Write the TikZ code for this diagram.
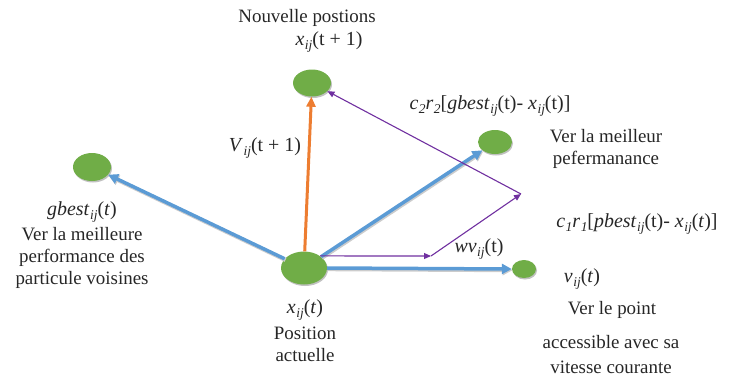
\documentclass[tikz,border=0pt]{standalone}
\usepackage{fontspec}
\setmainfont{Liberation Serif}
\usetikzlibrary{arrows.meta,shapes.geometric,shadows}
\definecolor{pgreen}{HTML}{70AD47}
\definecolor{pblue}{HTML}{5B9BD5}
\definecolor{porange}{HTML}{ED7D31}
\definecolor{ppurple}{HTML}{7030A0}
\newcommand{\lblfont}{\fontsize{19}{22}\selectfont}
\newcommand{\sv}[2]{\textit{#1}\kern0.5pt\raisebox{-0.4ex}{\fontsize{13.5}{13.5}\selectfont\textit{#2}}}
\newcommand{\iv}[1]{\textit{#1}}
\tikzset{
  dot/.style={ellipse, fill=pgreen, draw=none, inner sep=0pt,
    drop shadow={shadow xshift=1bp, shadow yshift=-1.5bp, opacity=0.35, fill=black!70}},
  lbl/.style={font=\lblfont, align=center, inner sep=0pt, text=black!85},
  mlbl/.style={font=\fontsize{20}{22}\selectfont, align=center, inner sep=0pt, text=black!85},
  bluearrow/.style={draw=pblue, line width=3.5bp, -{Triangle[length=10bp,width=10bp]},
    preaction={draw=black!20, line width=4bp, transform canvas={xshift=0.8bp,yshift=-1.2bp}}},
  orangearrow/.style={draw=porange, line width=3bp, -{Triangle[length=10bp,width=9bp]}},
  purplearrow/.style={draw=ppurple, line width=1.1bp, -{Triangle[length=7bp,width=6bp]}}
}
\begin{document}
\begin{tikzpicture}[x=1bp,y=-1bp]
\useasboundingbox (0,0) rectangle (731,378);
% nodes
\node[dot, minimum width=46bp, minimum height=33bp] (c) at (304,268) {};
\node[dot, minimum width=38bp, minimum height=27bp] (t) at (312,83) {};
\node[dot, minimum width=38bp, minimum height=28bp] (g) at (92,167) {};
\node[dot, minimum width=34bp, minimum height=24bp] (p) at (495,142) {};
\node[dot, minimum width=24bp, minimum height=18bp] (v) at (524,269) {};
\coordinate (w) at (431,256);
\coordinate (P) at (521,194);
% connectors
\draw[bluearrow] (c) -- (g);
\draw[bluearrow] (c) -- (p);
\draw[bluearrow] (c.east) -- (v.west);
\draw[orangearrow] (c) -- (t);
\draw[purplearrow] (c.37) -- (w);
\draw[purplearrow] (w) -- (P);
\draw[purplearrow] (P) -- (t);
% labels
\node[lbl] (l1) at (307,18) {Nouvelle postions};
\node[mlbl] (l2) at (329,42) {\sv{x}{ij}(t + 1)};
\node[mlbl] (l3) at (265,148) {\sv{V}{ij}(t + 1)};
\node[mlbl] (l4) at (82,212) {\sv{gbest}{ij}(\iv{t})};
\node[lbl] (l5) at (82,258) {Ver la meilleure\\performance des\\particule voisines};
\node[mlbl] (l6) at (305,310) {\sv{x}{ij}(\iv{t})};
\node[lbl] (l7) at (305,344) {Position\\actuelle};
\node[mlbl] (l8) at (490,106) {\sv{c}{2}\sv{r}{2}[\sv{gbest}{ij}(t)- \sv{x}{ij}(t)]};
\node[lbl] (l9) at (606,149) {Ver la meilleur\\pefermanance};
\node[mlbl] (l10) at (637,224) {\sv{c}{1}\sv{r}{1}[\sv{pbest}{ij}(t)- \sv{x}{ij}(\iv{t})]};
\node[mlbl] (l11) at (479,249) {\sv{wv}{ij}(t)};
\node[mlbl] (l12) at (582,279) {\sv{v}{ij}(\iv{t})};
\node[lbl] (l13) at (612,310) {Ver le point};
\node[lbl] (l14) at (611,342) {accessible avec sa};
\node[lbl] (l15) at (611,367) {vitesse courante};
\end{tikzpicture}
\end{document}
